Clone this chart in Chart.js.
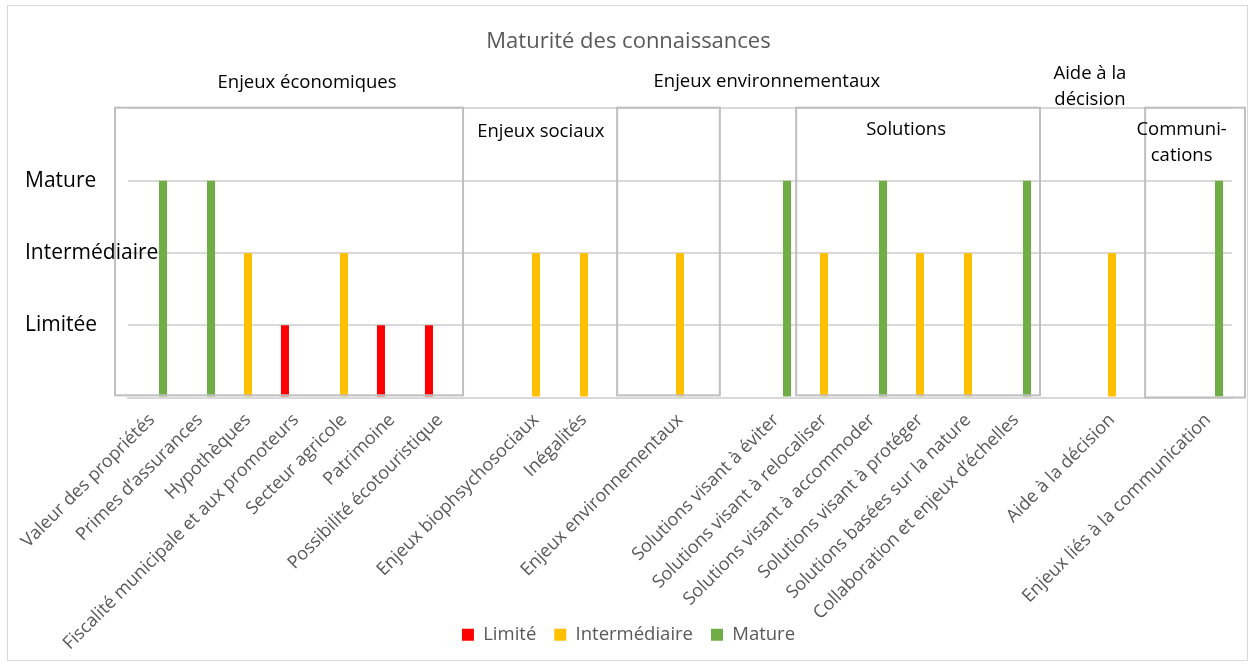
<!DOCTYPE html>
<html>
<head>
<meta charset="utf-8">
<script src="https://cdn.jsdelivr.net/npm/chart.js@4"></script>
<style>
  html, body { margin: 0; padding: 0; background: #fff; }
</style>
</head>
<body>
<canvas id="maturite" width="1250" height="666"></canvas>
<script>
// categories ('' = empty spacer slot between groups, as in the original sheet)
const categories = [
    'Valeur des propriétés', 'Primes d’assurances', 'Hypothèques',
    'Fiscalité municipale et aux promoteurs', 'Secteur agricole', 'Patrimoine',
    'Possibilité écotouristique', '',
    'Enjeux biophsychosociaux', 'Inégalités', '',
    'Enjeux environnementaux', '',
    'Solutions visant à éviter', 'Solutions visant à relocaliser', 'Solutions visant à accommoder',
    'Solutions visant à protéger', 'Solutions basées sur la nature', 'Collaboration et enjeux d’échelles', '',
    'Aide à la décision', '',
    'Enjeux liés à la communication'
];

// 1 = Limitée, 2 = Intermédiaire, 3 = Mature
const limite =        [null, null, null, 1, null, 1, 1, null, null, null, null, null, null, null, null, null, null, null, null, null, null, null, null];
const intermediaire = [null, null, 2, null, 2, null, null, null, 2, 2, null, 2, null, null, 2, null, 2, 2, null, null, 2, null, null];
const mature =        [3, 3, null, null, null, null, null, null, null, null, null, null, null, 3, null, 3, null, null, 3, null, null, null, 3];

const niveaux = ['', 'Limitée', 'Intermédiaire', 'Mature', ''];

// grey frames and group captions (x in category slots, y in axis units)
const cadres = [
    { x0: -0.77, x1: 6.48, y0: 4.01, y1: 0.03 },
    { x0: 9.69, x1: 11.83, y0: 4.01, y1: 0.03 },
    { x0: 13.42, x1: 18.5, y0: 4.01, y1: 0.03 },
    { x0: 20.69, x1: 22.77, y0: 4.01, y1: 0.0 }
];
const groupes = [
    { lignes: ['Enjeux économiques'], x: 3.23, y: 4.35 },
    { lignes: ['Enjeux sociaux'], x: 8.1, y: 3.68 },
    { lignes: ['Enjeux environnementaux'], x: 12.81, y: 4.375 },
    { lignes: ['Solutions'], x: 15.71, y: 3.70 },
    { lignes: ['Aide à la', 'décision'], x: 19.54, y: 4.485 },
    { lignes: ['Communi-', 'cations'], x: 21.45, y: 3.70 }
];

const police = "'Open Sans', 'DejaVu Sans', sans-serif";

const annotations = {
    id: 'annotations',
    beforeDraw(chart) {
        const ctx = chart.ctx;
        ctx.save();
        ctx.fillStyle = '#ffffff';
        ctx.fillRect(0, 0, chart.width, chart.height);
        ctx.strokeStyle = '#d9d9d9';
        ctx.lineWidth = 1;
        ctx.strokeRect(7.5, 5.5, chart.width - 10, chart.height - 11);
        ctx.restore();
    },
    afterDatasetsDraw(chart) {
        const ctx = chart.ctx;
        const xs = chart.scales.x;
        const ys = chart.scales.y;
        const slot = xs.getPixelForValue(1) - xs.getPixelForValue(0);
        const px = v => xs.getPixelForValue(0) + v * slot;

        ctx.save();
        ctx.strokeStyle = '#bfbfbf';
        ctx.lineWidth = 2;
        cadres.forEach(c => {
            const l = px(c.x0), r = px(c.x1);
            const t = ys.getPixelForValue(c.y0), b = ys.getPixelForValue(c.y1);
            ctx.strokeRect(l, t, r - l, b - t);
        });

        ctx.fillStyle = '#000000';
        ctx.font = '18.5px ' + police;
        ctx.textAlign = 'center';
        ctx.textBaseline = 'middle';
        groupes.forEach(g => {
            const y = ys.getPixelForValue(g.y);
            g.lignes.forEach((t, i) => ctx.fillText(t, px(g.x), y + i * 26));
        });
        ctx.restore();
    }
};

new Chart(document.getElementById('maturite'), {
    type: 'bar',
    data: {
        labels: categories,
        datasets: [{
            label: 'Limité',
            data: limite,
            backgroundColor: '#ff0000'
        },
        {
            label: 'Intermédiaire',
            data: intermediaire,
            backgroundColor: '#ffc000'
        },
        {
            label: 'Mature',
            data: mature,
            backgroundColor: '#70ad47'
        }]
    },
    options: {
        responsive: false,
        animation: false,
        devicePixelRatio: 1,
        categoryPercentage: 0.69,
        barPercentage: 0.73,
        layout: {
            padding: { left: 25, right: 18, top: 0, bottom: 12 }
        },
        plugins: {
            title: {
                display: true,
                text: 'Maturité des connaissances',
                color: '#595959',
                font: { family: police, size: 22, weight: 'normal' },
                padding: { top: 29, bottom: 53 }
            },
            legend: {
                position: 'bottom',
                labels: {
                    color: '#595959',
                    font: { family: police, size: 18.5 },
                    boxWidth: 12,
                    boxHeight: 12,
                    padding: 18
                }
            },
            tooltip: { enabled: false }
        },
        scales: {
            x: {
                grid: { display: false },
                border: { color: '#d9d9d9', width: 2 },
                ticks: {
                    color: '#595959',
                    font: { family: police, size: 18 },
                    minRotation: 45,
                    maxRotation: 45,
                    autoSkip: false,
                    padding: 4
                },
                afterFit(scale) {
                    scale.height = 210;
                    scale.paddingLeft = 0;
                    scale.paddingRight = 0;
                    // long labels run down over the legend area, as in the original
                    scale._computeLabelArea = () => undefined;
                }
            },
            y: {
                min: 0,
                max: 4,
                border: { display: false },
                grid: { color: '#d9d9d9', lineWidth: 2, drawTicks: false },
                ticks: {
                    stepSize: 1,
                    color: '#000000',
                    font: { family: police, size: 21 },
                    crossAlign: 'far',
                    callback: v => niveaux[v]
                },
                afterFit(scale) {
                    scale.width = 103;
                    // let the long level names spill into the plot, as in the original
                    scale._computeLabelArea = () => undefined;
                }
            }
        }
    },
    plugins: [annotations]
});
</script>
</body>
</html>
